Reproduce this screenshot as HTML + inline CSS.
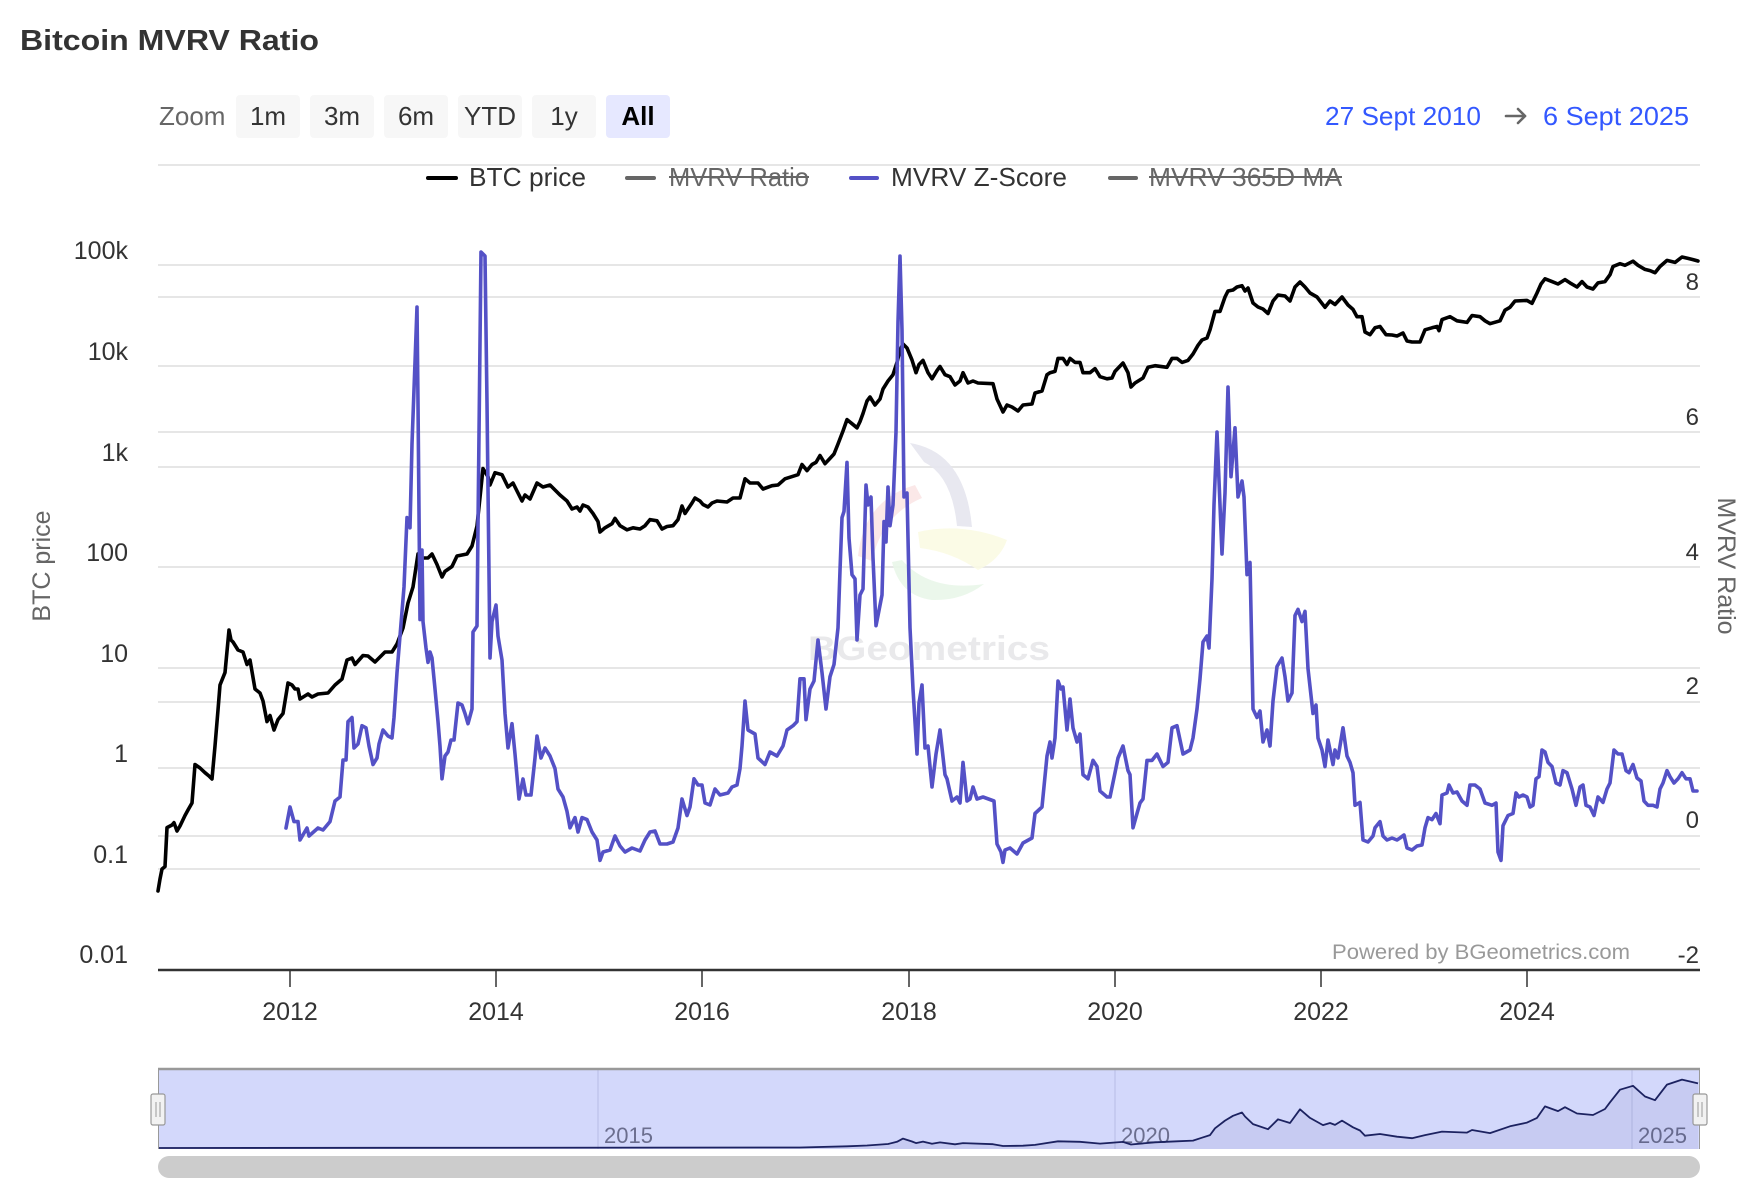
<!DOCTYPE html>
<html>
<head>
<meta charset="utf-8">
<style>
html,body{margin:0;padding:0;background:#fff;}
svg{display:block;}
text{font-family:"Liberation Sans","DejaVu Sans",sans-serif;}
.num{font-family:"DejaVu Sans","Liberation Sans",sans-serif;}
</style>
</head>
<body>
<svg width="1764" height="1198" viewBox="0 0 1764 1198" xmlns="http://www.w3.org/2000/svg">
<rect x="0" y="0" width="1764" height="1198" fill="#fff"/>

<!-- Title -->
<text x="20" y="50" font-size="29" font-weight="bold" fill="#333" textLength="299" lengthAdjust="spacingAndGlyphs">Bitcoin MVRV Ratio</text>

<!-- Zoom buttons -->
<text x="159" y="125" font-size="26" fill="#666">Zoom</text>
<rect x="236" y="95" width="64" height="43" rx="4" fill="#f7f7f7"/>
<rect x="310" y="95" width="64" height="43" rx="4" fill="#f7f7f7"/>
<rect x="384" y="95" width="64" height="43" rx="4" fill="#f7f7f7"/>
<rect x="458" y="95" width="64" height="43" rx="4" fill="#f7f7f7"/>
<rect x="532" y="95" width="64" height="43" rx="4" fill="#f7f7f7"/>
<rect x="606" y="95" width="64" height="43" rx="4" fill="#e6e8ff"/>
<g font-size="26" fill="#333" text-anchor="middle">
<text x="268" y="125">1m</text>
<text x="342" y="125">3m</text>
<text x="416" y="125">6m</text>
<text x="490" y="125">YTD</text>
<text x="564" y="125">1y</text>
<text x="638" y="125" font-weight="bold" fill="#000">All</text>
</g>

<!-- Date range -->
<text x="1325" y="125" font-size="26" fill="#3358ff" textLength="156" lengthAdjust="spacingAndGlyphs">27 Sept 2010</text>
<g stroke="#666" stroke-width="2.6" fill="none" stroke-linecap="round" stroke-linejoin="round">
<line x1="1506" y1="116" x2="1525" y2="116"/>
<polyline points="1518,109 1525,116 1518,123"/>
</g>
<text x="1543" y="125" font-size="26" fill="#3358ff" textLength="146" lengthAdjust="spacingAndGlyphs">6 Sept 2025</text>

<!-- Gridlines -->
<g stroke="#e6e6e6" stroke-width="2">
<line x1="158" y1="165" x2="1700" y2="165"/>
<line x1="158" y1="265" x2="1700" y2="265"/>
<line x1="158" y1="297" x2="1700" y2="297"/>
<line x1="158" y1="366" x2="1700" y2="366"/>
<line x1="158" y1="432" x2="1700" y2="432"/>
<line x1="158" y1="467" x2="1700" y2="467"/>
<line x1="158" y1="567" x2="1700" y2="567"/>
<line x1="158" y1="668" x2="1700" y2="668"/>
<line x1="158" y1="702" x2="1700" y2="702"/>
<line x1="158" y1="768" x2="1700" y2="768"/>
<line x1="158" y1="836" x2="1700" y2="836"/>
<line x1="158" y1="869" x2="1700" y2="869"/>
</g>

<!-- Legend -->
<g stroke-width="4" stroke-linecap="round">
<line x1="428" y1="178" x2="456" y2="178" stroke="#000"/>
<line x1="627" y1="178" x2="654" y2="178" stroke="#666"/>
<line x1="851" y1="178" x2="877" y2="178" stroke="#5451c6"/>
<line x1="1110" y1="178" x2="1136" y2="178" stroke="#666"/>
</g>
<g font-size="26">
<text x="469" y="186" fill="#333" textLength="117" lengthAdjust="spacingAndGlyphs">BTC price</text>
<text x="669" y="186" fill="#666" textLength="140" lengthAdjust="spacingAndGlyphs">MVRV Ratio</text>
<text x="891" y="186" fill="#333" textLength="176" lengthAdjust="spacingAndGlyphs">MVRV Z-Score</text>
<text x="1149" y="186" fill="#666" textLength="193" lengthAdjust="spacingAndGlyphs">MVRV 365D MA</text>
</g>
<line x1="669" y1="177" x2="809" y2="177" stroke="#666" stroke-width="2"/>
<line x1="1149" y1="177" x2="1342" y2="177" stroke="#666" stroke-width="2"/>

<!-- Watermark -->
<g opacity="0.9">
<path d="M910,443 Q965,452 972,527 L957,526 Q952,476 924,462 Z" fill="#e6e6ef"/>
<path d="M915,485 L922,498 Q882,515 872,561 L858,556 Q864,500 915,485 Z" fill="#fbe6e6"/>
<path d="M918,532 Q962,522 1007,540 Q1000,560 978,570 Q952,552 920,548 Z" fill="#fbfbe4"/>
<path d="M892,562 L902,560 Q930,592 984,584 Q962,601 932,600 Q900,596 892,562 Z" fill="#e9f7e9"/>
</g>
<text x="808" y="660" font-family="DejaVu Sans, Liberation Sans, sans-serif" font-weight="bold" font-size="34" fill="#e9e9eb" textLength="242" lengthAdjust="spacingAndGlyphs">BGeometrics</text>

<!-- Y labels left -->
<g class="num" font-size="25" fill="#333" text-anchor="end">
<text x="128" y="259">100k</text>
<text x="128" y="360">10k</text>
<text x="128" y="461">1k</text>
<text x="128" y="561">100</text>
<text x="128" y="662">10</text>
<text x="128" y="762">1</text>
<text x="128" y="863">0.1</text>
<text x="128" y="963">0.01</text>
</g>
<!-- Y labels right -->
<g class="num" font-size="24" fill="#333" text-anchor="end">
<text x="1699" y="290">8</text>
<text x="1699" y="425">6</text>
<text x="1699" y="560">4</text>
<text x="1699" y="694">2</text>
<text x="1699" y="828">0</text>
<text x="1699" y="963">-2</text>
</g>

<!-- Axis titles -->
<text transform="translate(50,566) rotate(-90)" text-anchor="middle" font-size="25" fill="#666">BTC price</text>
<text transform="translate(1718,566) rotate(90)" text-anchor="middle" font-size="25" fill="#666">MVRV Ratio</text>

<!-- Powered by -->
<text x="1332" y="959" font-size="21" fill="#999" textLength="298" lengthAdjust="spacingAndGlyphs">Powered by BGeometrics.com</text>

<!-- BTC price series -->
<polyline fill="none" stroke="#000" stroke-width="3.6" stroke-linejoin="round" stroke-linecap="round" points="158,891 160,879 162,869 165,866.6 167,827.6 172,825 174,822.7 177,831 180,826 185,815.5 188,810 192,803 195,764.5 200,768 205,772.7 209,776 212,779 215,746 218,710 220,685 225,672.6 229,630 231,640 233,642 238,650 243,652 247,664.5 250,660 255,689 260,693 263,701 267,721.6 270,715.5 274,730 278,719.6 283,713.5 288,683 292,685 295,689 298,689 300,699 308,694 312,697 318,694 328,693 335,685 342,679 347,660 352,658 355,664.5 363,655.5 368,656 375,662 385,652 392,652 397,644 403,628 408,603 413,587 418,554 422,558 428,558 432,554 437,564.5 442,577 445,571.4 452,566.5 457,556 467,554 472,546 477,526 483,468.6 488,476.7 490,485 495,472.7 502,474.7 508,487 513,483 518,493 522,501 525,495 530,499 537,483 543,487 550,485 555,490 560,495 567,501 572,509 577,507 580,511 583,505 588,507 593,513.5 598,521.6 600,532 605,527.8 612,523.7 615,518.4 620,525.7 627,529.8 633,527.8 640,529 645,525.7 650,519.6 657,520.8 662,529 667,526.5 673,525.7 678,519.6 682,506 685,513.5 692,503 695,498 700,501 703,504.5 708,507 712,503 717,501 727,502 733,498 740,498 745,478.8 750,483 758,483 763,489 772,485.7 778,485 785,478.8 798,474.7 802,464.5 807,470.6 812,464.5 816,462.4 820,455.5 825,463.7 830,458.4 834,454 838,444 843,431 847,419.6 852,423.7 857,427.8 860,421.6 863,413.5 867,401 870,397 875,405 880,399 883,389 888,381 893,374.7 897,362.4 900,350 903,344 907,348 912,360 916,372.7 919,364.5 923,360.4 928,372.7 932,378.8 937,370.6 940,366.5 945,374.7 950,376.7 955,385 960,381 963,372.7 968,383 973,381 978,383 993,383.7 997,399 1003,412 1007,405 1012,407 1018,411 1023,405 1032,404 1035,393 1042,391 1047,374.7 1050,372.7 1055,371.4 1058,358.4 1063,358.4 1067,364.5 1070,358.4 1075,362.4 1080,362.4 1083,372.7 1090,372.7 1095,368.6 1100,376.7 1107,378.8 1112,378 1115,371.4 1123,363 1128,372.7 1131,387 1135,383 1143,378 1148,367.3 1155,365.7 1167,367.3 1172,358.4 1177,358.4 1182,362.4 1188,360.4 1193,354 1198,345.3 1202,340 1207,338 1210,329.8 1215,311.4 1220,311.4 1225,297 1228,291 1233,290 1237,287 1242,285.7 1245,291 1248,288 1253,303 1258,307 1263,309 1268,313.5 1273,301 1278,295 1285,296 1290,301 1295,287 1300,282 1305,287 1310,293 1317,297 1325,307.3 1330,301 1335,304.5 1342,297 1348,305 1353,309.4 1357,316.7 1362,316.7 1365,332 1370,334.7 1375,327.8 1380,326.5 1386,334.7 1392,335 1397,336 1403,333 1407,341 1412,342 1420,342 1425,329.8 1432,327.8 1437,326.5 1439,330.6 1442,319.6 1450,316.7 1457,320.8 1467,322.4 1472,315.5 1480,316.7 1485,320.8 1490,323.7 1500,320.8 1505,310.2 1510,307.3 1515,301 1527,300.4 1532,303.3 1537,293 1541,284 1545,278.8 1552,281.6 1558,284 1565,279.6 1570,282.9 1577,287 1582,281.6 1587,287 1593,289 1598,282.9 1605,281.6 1610,274.7 1613,266.5 1620,263.7 1625,265.3 1633,261.2 1638,265.3 1645,269.4 1650,270.6 1655,272.7 1660,266.5 1667,260.4 1675,262.4 1682,257 1688,258.4 1693,259.6 1698,261"/>

<!-- MVRV Z-Score series -->
<polyline fill="none" stroke="#5451c6" stroke-width="3.6" stroke-linejoin="round" stroke-linecap="round" points="286,828 290,807 294,821.6 298,821.6 300,840 307,828 309,836 318,828 323,830 330,821.6 335,801 340,797 343,760 346,760 348,721.6 352,717.5 354,748 358,744 362,725.7 366,727.8 369,746 373,764.5 377,758 379,744 383,730 388,736 392,738 394,717.5 397,672.6 400,636 404,587 407,517.6 410,527.8 412,444 415,362.4 417,307 418,403 420,619.6 422,550 423,621.6 426,648 428,662.4 430,652 432,658 435,689 438,721.6 440,746 442,778.8 445,756 448,752 451,740 454,740 458,703 462,705 465,713.5 468,723.7 472,709 473,632 477,626 478,525.7 481,252 485,256 487,403 490,658 492,621.6 496,605 498,636 502,660 505,713.5 508,748 512,723.7 515,754 519,799 523,779 526,795 531,795 535,758 537,736 541,758 545,748 550,756 555,768.6 558,789 563,797 567,811.4 570,827.8 575,817.6 578,832 582,817.6 587,819.6 592,832 597,840 600,860.4 603,852 610,850 615,836 620,846 625,852 632,848 640,851 645,840 650,832 655,831 660,844 667,844 673,842 678,828 682,799 687,815.5 690,807 694,778.8 698,785 702,785 705,803 710,805 715,789 720,795 728,793 732,787 737,785 740,768.6 742,746 745,701 748,730 755,734 758,758 765,764.5 770,752 777,756 783,746 787,730 793,725.7 797,721.6 800,678.8 804,678.8 806,719.6 810,689 814,681 818,640 822,672.6 826,709 830,676.7 834,664.5 838,627.8 840,570.6 842,517.6 844,511.4 847,462.4 849,538 852,574.7 855,578.8 857,640 860,595 863,589 866,485 868,505 871,497 873,558 876,625.7 878,615.5 882,595 884,521.6 886,542 888,487 890,525.7 893,505 896,432 898,321.6 900,256 902,330 904,497 907,493 910,627.8 913,689 917,754 919,703 922,685 925,748 928,746 932,787 936,754 940,730 945,774.7 947,778.8 952,801 957,797 960,803 963,762.4 967,801 970,799 973,787 977,799 983,797 994,801 997,844 1001,852 1003,862.4 1005,850 1010,848 1017,854 1023,843 1032,838 1035,813.5 1042,807 1047,756 1050,742 1052,758 1055,738 1058,681 1061,689 1063,687 1067,730 1070,699 1073,728 1077,742 1080,734 1083,774.7 1088,778.8 1093,760.4 1097,766.5 1100,791 1107,797 1110,797 1115,772.7 1118,758 1123,746 1128,770.6 1130,774.7 1133,827.8 1137,813.5 1140,803 1143,799 1147,760.4 1152,760.4 1157,754 1163,766.5 1168,762.4 1172,727.8 1177,725.7 1183,754 1190,750 1193,738 1197,709 1200,678.8 1203,642 1207,636 1209,648 1212,578.8 1214,505 1217,432 1220,505 1222,554 1225,493 1228,387 1231,476.7 1232,464.5 1235,427.8 1238,497 1242,481 1244,497 1247,574.7 1250,562.4 1253,709 1257,717.5 1260,711 1263,742 1267,730 1270,746 1273,701 1277,666.5 1282,658 1285,676.7 1288,701 1292,693 1295,615.5 1298,609.4 1302,621.6 1305,611.4 1308,668.6 1313,713.5 1316,705 1318,738 1322,750 1325,766.5 1328,740 1333,764.5 1335,750 1338,758 1343,727.8 1347,756 1350,762.4 1353,772.7 1355,805.3 1360,802.4 1363,840 1368,842 1373,836 1375,827.8 1380,821.6 1383,836 1387,840 1392,838 1397,840 1400,838 1404,835 1407,848 1412,850 1417,846 1422,845 1425,827.8 1428,817.6 1432,819.6 1436,813.5 1440,823.7 1442,795 1447,793 1449,785 1453,793 1457,792 1462,801 1467,805.3 1470,785 1475,785 1480,789 1485,803 1492,805.3 1496,803 1498,852 1501,860.4 1503,825.7 1508,815.5 1513,813.5 1516,793 1519,797 1523,795 1527,797 1530,807 1533,805.3 1536,778.8 1539,776.7 1542,750 1545,752 1548,762.4 1552,766.5 1556,783 1560,785 1563,770.6 1567,772.7 1572,789 1576,805.3 1580,787 1583,785 1586,805.3 1590,807 1594,815.5 1598,797 1603,802.4 1607,789 1610,783 1614,750 1618,754 1622,754 1626,770.6 1629,772.7 1633,764.5 1637,778 1641,781 1644,801 1648,805.3 1653,805.3 1657,807 1660,789 1663,783 1667,770.6 1670,776.7 1674,783 1678,778.8 1682,772.7 1686,778.8 1690,778.8 1693,791 1697,791"/>

<!-- X axis -->
<line x1="158" y1="970" x2="1700" y2="970" stroke="#333" stroke-width="2.5"/>
<g stroke="#333" stroke-width="1.5">
<line x1="290" y1="970" x2="290" y2="987"/>
<line x1="496" y1="970" x2="496" y2="987"/>
<line x1="702" y1="970" x2="702" y2="987"/>
<line x1="909" y1="970" x2="909" y2="987"/>
<line x1="1115" y1="970" x2="1115" y2="987"/>
<line x1="1321" y1="970" x2="1321" y2="987"/>
<line x1="1527" y1="970" x2="1527" y2="987"/>
</g>
<g font-size="25" fill="#333" text-anchor="middle">
<text x="290" y="1020">2012</text>
<text x="496" y="1020">2014</text>
<text x="702" y="1020">2016</text>
<text x="909" y="1020">2018</text>
<text x="1115" y="1020">2020</text>
<text x="1321" y="1020">2022</text>
<text x="1527" y="1020">2024</text>
</g>

<!-- Navigator -->
<rect x="158" y="1069" width="1542" height="80" fill="#d3d8fb"/>
<g stroke="#bcc2ea" stroke-width="1.2">
<line x1="598" y1="1070" x2="598" y2="1149"/>
<line x1="1115" y1="1070" x2="1115" y2="1149"/>
<line x1="1632" y1="1070" x2="1632" y2="1149"/>
</g>
<g font-size="22" fill="#6b6e8e">
<text x="604" y="1143">2015</text>
<text x="1121" y="1143">2020</text>
<text x="1638" y="1143">2025</text>
</g>
<polygon fill="rgba(40,45,130,0.07)" points="158,1148 800,1147.5 847,1146.3 867,1145.5 888,1144 897,1141.8 903,1138.6 912,1141.5 916,1143.1 923,1141.6 932,1143.8 940,1142.4 955,1144.3 963,1143.1 993,1144.2 1003,1146 1023,1145.7 1035,1144.9 1058,1141.3 1080,1141.8 1100,1143.6 1123,1141.9 1131,1144.5 1155,1142.3 1177,1141.3 1193,1140.6 1202,1137.7 1210,1135.1 1215,1128.3 1225,1120.6 1233,1115.8 1242,1112.5 1245,1116.5 1253,1124.1 1268,1129.2 1278,1119.3 1290,1123 1300,1109.3 1310,1117.9 1323,1125.1 1330,1123 1335,1124.9 1342,1120.6 1353,1127.3 1360,1130.5 1365,1135.7 1380,1134 1397,1136.7 1412,1138.2 1425,1135.1 1442,1131.6 1467,1132.6 1472,1130 1490,1133.1 1510,1126.3 1527,1122.6 1537,1117.9 1545,1106.4 1558,1111.1 1565,1107.2 1577,1113.5 1593,1115 1605,1109 1610,1102.3 1620,1089.7 1633,1085.8 1645,1096.5 1655,1100.2 1667,1084.6 1682,1079.6 1698,1083.4 1698,1149 158,1149"/>
<polyline fill="none" stroke="#1c2260" stroke-width="1.8" stroke-linejoin="round" points="158,1148 800,1147.5 847,1146.3 867,1145.5 888,1144 897,1141.8 903,1138.6 912,1141.5 916,1143.1 923,1141.6 932,1143.8 940,1142.4 955,1144.3 963,1143.1 993,1144.2 1003,1146 1023,1145.7 1035,1144.9 1058,1141.3 1080,1141.8 1100,1143.6 1123,1141.9 1131,1144.5 1155,1142.3 1177,1141.3 1193,1140.6 1202,1137.7 1210,1135.1 1215,1128.3 1225,1120.6 1233,1115.8 1242,1112.5 1245,1116.5 1253,1124.1 1268,1129.2 1278,1119.3 1290,1123 1300,1109.3 1310,1117.9 1323,1125.1 1330,1123 1335,1124.9 1342,1120.6 1353,1127.3 1360,1130.5 1365,1135.7 1380,1134 1397,1136.7 1412,1138.2 1425,1135.1 1442,1131.6 1467,1132.6 1472,1130 1490,1133.1 1510,1126.3 1527,1122.6 1537,1117.9 1545,1106.4 1558,1111.1 1565,1107.2 1577,1113.5 1593,1115 1605,1109 1610,1102.3 1620,1089.7 1633,1085.8 1645,1096.5 1655,1100.2 1667,1084.6 1682,1079.6 1698,1083.4"/>
<line x1="158" y1="1069" x2="1700" y2="1069" stroke="#999" stroke-width="2.5"/>
<line x1="158.5" y1="1069" x2="158.5" y2="1149" stroke="#999" stroke-width="1"/>
<line x1="1699.5" y1="1069" x2="1699.5" y2="1149" stroke="#999" stroke-width="1"/>
<!-- Handles -->
<rect x="151" y="1094" width="14" height="31" rx="2" fill="#f2f2f2" stroke="#999" stroke-width="1.2"/>
<line x1="156" y1="1102" x2="156" y2="1117" stroke="#999" stroke-width="1"/>
<line x1="160" y1="1102" x2="160" y2="1117" stroke="#999" stroke-width="1"/>
<rect x="1693" y="1094" width="14" height="31" rx="2" fill="#f2f2f2" stroke="#999" stroke-width="1.2"/>
<line x1="1698" y1="1102" x2="1698" y2="1117" stroke="#999" stroke-width="1"/>
<line x1="1702" y1="1102" x2="1702" y2="1117" stroke="#999" stroke-width="1"/>

<!-- Scrollbar -->
<rect x="158" y="1156" width="1542" height="22" rx="11" fill="#cccccc"/>
</svg>
</body>
</html>
